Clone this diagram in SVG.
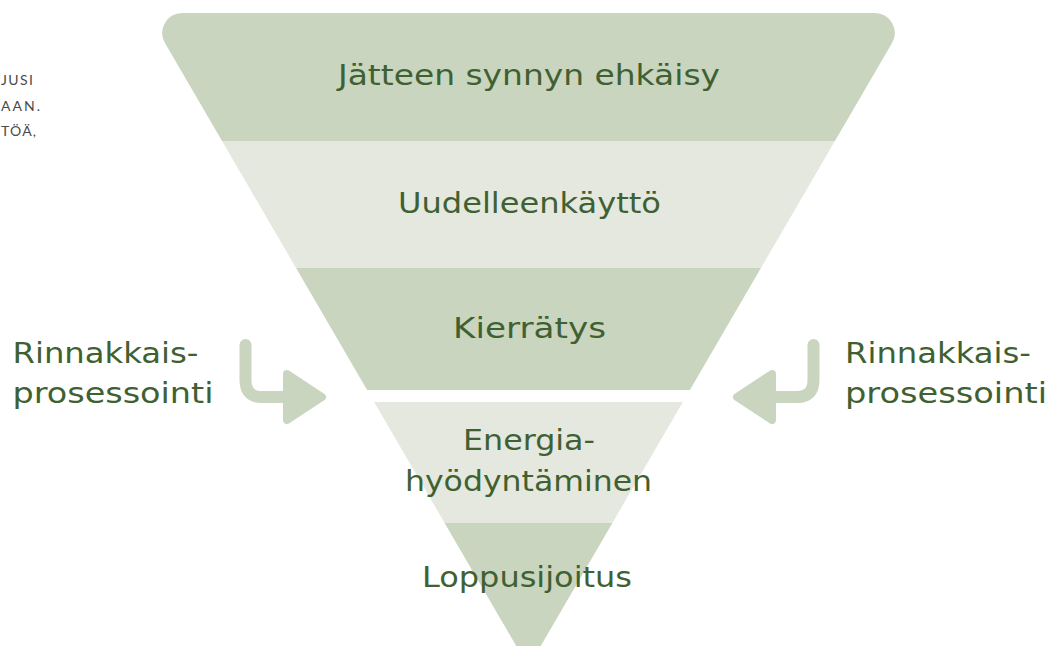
<svg xmlns="http://www.w3.org/2000/svg" width="1049" height="646" viewBox="0 0 1049 646">
<style>
.lbl{font-family:"DejaVu Sans","Liberation Sans",sans-serif;font-size:28px;fill:#3f6132;}
.side{font-family:"DejaVu Sans","Liberation Sans",sans-serif;font-size:28px;fill:#3f6132;}
.small{font-family:"Lato","Liberation Sans",sans-serif;font-size:14px;fill:#4a4a4a;}
.dark{fill:#c9d5be;}
.light{fill:#e5e8df;}
.arr{fill:none;stroke:#c9d5be;stroke-width:12;stroke-linecap:round;stroke-linejoin:round;}
.head{fill:#c9d5be;stroke:#c9d5be;stroke-width:8;stroke-linejoin:round;}
</style>
<defs>
<clipPath id="tri">
<path d="M165.1 43.2 A20 20 0 0 1 182.5 13 L874.5 13 A20 20 0 0 1 891.9 43.2 L528.5 667 Z"/>
</clipPath>
</defs>
<rect width="1049" height="646" fill="#ffffff"/>
<g id="side-text">
<text class="small" x="1" y="85" textLength="32" lengthAdjust="spacing">JUSI</text>
<text class="small" x="1" y="111" textLength="39" lengthAdjust="spacing">AAN.</text>
<text class="small" x="1" y="136" textLength="35" lengthAdjust="spacing">TÖÄ,</text>
</g>
<g id="level1">
<rect class="dark" x="0" y="0" width="1049" height="141" clip-path="url(#tri)"/>
<text class="lbl" x="338" y="85" textLength="382" lengthAdjust="spacingAndGlyphs">Jätteen synnyn ehkäisy</text>
</g>
<g id="level2">
<rect class="light" x="0" y="141" width="1049" height="127" clip-path="url(#tri)"/>
<text class="lbl" x="398" y="213" textLength="263" lengthAdjust="spacingAndGlyphs">Uudelleenkäyttö</text>
</g>
<g id="level3">
<rect class="dark" x="0" y="268" width="1049" height="122" clip-path="url(#tri)"/>
<text class="lbl" x="453" y="338" textLength="153" lengthAdjust="spacingAndGlyphs">Kierrätys</text>
</g>
<g id="level4">
<rect class="light" x="0" y="402" width="1049" height="121" clip-path="url(#tri)"/>
<text class="lbl" x="463" y="450" textLength="132" lengthAdjust="spacingAndGlyphs">Energia-</text>
<text class="lbl" x="405" y="491" textLength="247" lengthAdjust="spacingAndGlyphs">hyödyntäminen</text>
</g>
<g id="level5">
<rect class="dark" x="0" y="523" width="1049" height="150" clip-path="url(#tri)"/>
<text class="lbl" x="422" y="587" textLength="210" lengthAdjust="spacingAndGlyphs">Loppusijoitus</text>
</g>
<g id="left-label">
<text class="side" x="12.5" y="363" textLength="186" lengthAdjust="spacingAndGlyphs">Rinnakkais-</text>
<text class="side" x="12.5" y="403" textLength="201" lengthAdjust="spacingAndGlyphs">prosessointi</text>
</g>
<g id="right-label">
<text class="side" x="845" y="363" textLength="186" lengthAdjust="spacingAndGlyphs">Rinnakkais-</text>
<text class="side" x="845" y="403" textLength="202" lengthAdjust="spacingAndGlyphs">prosessointi</text>
</g>
<g id="connectors">
<path class="arr" d="M245.5 345 L245.5 380 Q245.5 397 262 397 L292 397"/>
<polygon class="head" points="287,374 322,397 287,420"/>
<path class="arr" d="M813.5 345 L813.5 380 Q813.5 397 797 397 L767 397"/>
<polygon class="head" points="772,374 737,397 772,420"/>
</g>
</svg>
